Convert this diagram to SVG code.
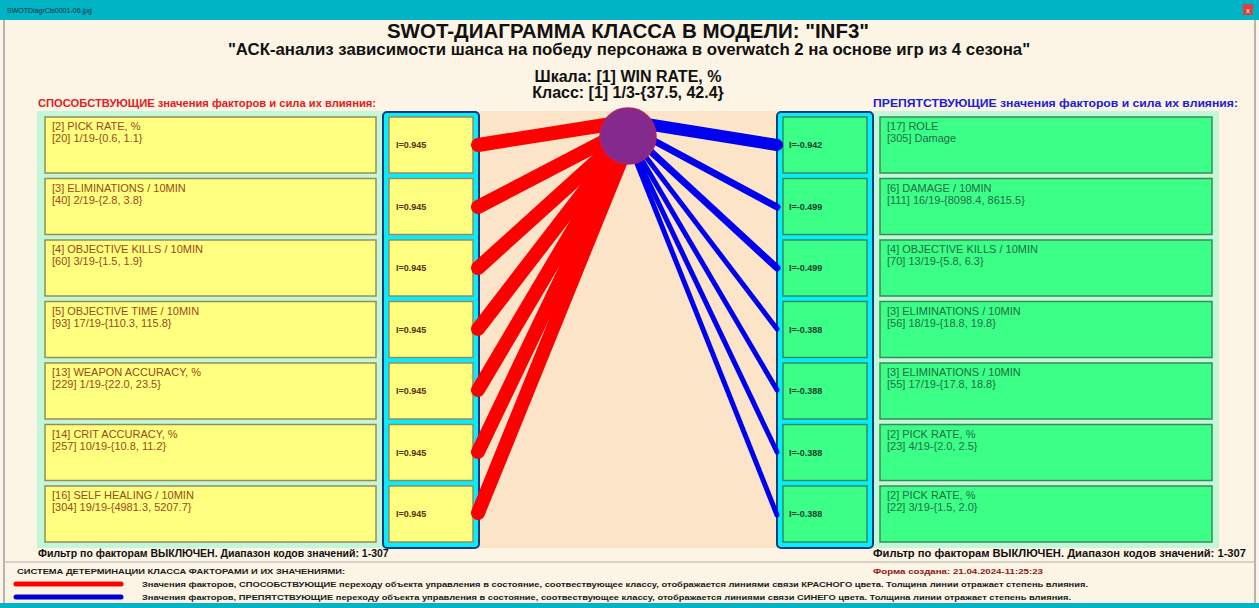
<svg xmlns="http://www.w3.org/2000/svg" width="1259" height="608" viewBox="0 0 1259 608">
<style>
text{font-family:"Liberation Sans",Arial,sans-serif}
.ybox{fill:#FFFF80;stroke:#9A8A5A;stroke-width:1.5}
.gbox{fill:#3CFF88;stroke:#3A8A5A;stroke-width:1.5}
.yt{font-size:11px;fill:#9A4A1A}
.gt{font-size:11px;fill:#1E6E44}
.iy{font-size:9px;font-weight:bold;fill:#5A3010}
.ig{font-size:9px;font-weight:bold;fill:#1A4030}
.frame{fill:#00F0FF;stroke:#1A3A7A;stroke-width:2}
.red{stroke:#FF0000;stroke-linecap:round;fill:none}
.blue{stroke:#0000F0;stroke-linecap:round;fill:none}
.leg{font-size:8px;font-weight:bold;fill:#202020}
</style>
<rect x="0" y="0" width="1259" height="608" fill="#FCF4E4"/>
<rect x="0" y="0" width="1259" height="20" fill="#00B4C6"/>
<text x="7" y="13" font-size="7" fill="#1A2A3A">SWOTDiagrCls0001-06.jpg</text>
<rect x="1243" y="4" width="10" height="11" fill="#E04040"/>
<text x="1248" y="12.5" font-size="7" fill="#FFFFFF" text-anchor="middle">x</text>
<rect x="0" y="603" width="1259" height="5" fill="#00B4C6"/>
<line x1="4" y1="20" x2="4" y2="603" stroke="#A0A0A0" stroke-width="1.5"/>
<line x1="1255" y1="20" x2="1255" y2="603" stroke="#A0A0A0" stroke-width="1.5"/>

<g id="titles">
<text x="628" y="38" font-size="20.5" font-weight="bold" text-anchor="middle" fill="#111">SWOT-ДИАГРАММА КЛАССА В МОДЕЛИ: "INF3"</text>
<text x="629" y="55" font-size="16.8" font-weight="bold" text-anchor="middle" fill="#111">"АСК-анализ зависимости шанса на победу персонажа в overwatch 2 на основе игр из 4 сезона"</text>
<text x="628" y="82" font-size="16" font-weight="bold" text-anchor="middle" fill="#111">Шкала: [1] WIN RATE, %</text>
<text x="628" y="98" font-size="16" font-weight="bold" text-anchor="middle" fill="#111">Класс: [1] 1/3-{37.5, 42.4}</text>
<text x="38" y="107" font-size="11" font-weight="bold" fill="#E02020" textLength="338" lengthAdjust="spacingAndGlyphs">СПОСОБСТВУЮЩИЕ значения факторов и сила их влияния:</text>
<text x="873" y="107" font-size="11" font-weight="bold" fill="#2020D0" textLength="365" lengthAdjust="spacingAndGlyphs">ПРЕПЯТСТВУЮЩИЕ значения факторов и сила их влияния:</text>
</g>

<rect x="37" y="111" width="346" height="437" fill="#C2F8D8"/>
<rect x="873" y="111" width="346" height="437" fill="#C2F8D8"/>
<rect x="479" y="111" width="298" height="437" fill="#FCE4C8"/>
<rect x="383" y="112" width="96" height="436" rx="4" class="frame"/>
<rect x="777" y="112" width="96" height="436" rx="4" class="frame"/>

<g id="left-nodes">
<g id="L1"><rect class="ybox" x="45" y="117" width="331" height="56"/><text class="yt" x="52" y="130">[2] PICK RATE, %</text><text class="yt" x="52" y="142">[20] 1/19-{0.6, 1.1}</text><rect class="ybox" x="389" y="117" width="84" height="56"/><text class="iy" x="396" y="148">I=0.945</text></g>
<g id="L2"><rect class="ybox" x="45" y="178.5" width="331" height="56"/><text class="yt" x="52" y="191.5">[3] ELIMINATIONS / 10MIN</text><text class="yt" x="52" y="203.5">[40] 2/19-{2.8, 3.8}</text><rect class="ybox" x="389" y="178.5" width="84" height="56"/><text class="iy" x="396" y="209.5">I=0.945</text></g>
<g id="L3"><rect class="ybox" x="45" y="240" width="331" height="56"/><text class="yt" x="52" y="253">[4] OBJECTIVE KILLS / 10MIN</text><text class="yt" x="52" y="265">[60] 3/19-{1.5, 1.9}</text><rect class="ybox" x="389" y="240" width="84" height="56"/><text class="iy" x="396" y="271">I=0.945</text></g>
<g id="L4"><rect class="ybox" x="45" y="301.5" width="331" height="56"/><text class="yt" x="52" y="314.5">[5] OBJECTIVE TIME / 10MIN</text><text class="yt" x="52" y="326.5">[93] 17/19-{110.3, 115.8}</text><rect class="ybox" x="389" y="301.5" width="84" height="56"/><text class="iy" x="396" y="332.5">I=0.945</text></g>
<g id="L5"><rect class="ybox" x="45" y="363" width="331" height="56"/><text class="yt" x="52" y="376">[13] WEAPON ACCURACY, %</text><text class="yt" x="52" y="388">[229] 1/19-{22.0, 23.5}</text><rect class="ybox" x="389" y="363" width="84" height="56"/><text class="iy" x="396" y="394">I=0.945</text></g>
<g id="L6"><rect class="ybox" x="45" y="424.5" width="331" height="56"/><text class="yt" x="52" y="437.5">[14] CRIT ACCURACY, %</text><text class="yt" x="52" y="449.5">[257] 10/19-{10.8, 11.2}</text><rect class="ybox" x="389" y="424.5" width="84" height="56"/><text class="iy" x="396" y="455.5">I=0.945</text></g>
<g id="L7"><rect class="ybox" x="45" y="486" width="331" height="56"/><text class="yt" x="52" y="499">[16] SELF HEALING / 10MIN</text><text class="yt" x="52" y="511">[304] 19/19-{4981.3, 5207.7}</text><rect class="ybox" x="389" y="486" width="84" height="56"/><text class="iy" x="396" y="517">I=0.945</text></g>
</g>

<g id="right-nodes">
<g id="R1"><rect class="gbox" x="783" y="117" width="84" height="56"/><text class="ig" x="789" y="148">I=-0.942</text><rect class="gbox" x="880" y="117" width="332" height="56"/><text class="gt" x="887" y="130">[17] ROLE</text><text class="gt" x="887" y="142">[305] Damage</text></g>
<g id="R2"><rect class="gbox" x="783" y="178.5" width="84" height="56"/><text class="ig" x="789" y="209.5">I=-0.499</text><rect class="gbox" x="880" y="178.5" width="332" height="56"/><text class="gt" x="887" y="191.5">[6] DAMAGE / 10MIN</text><text class="gt" x="887" y="203.5">[111] 16/19-{8098.4, 8615.5}</text></g>
<g id="R3"><rect class="gbox" x="783" y="240" width="84" height="56"/><text class="ig" x="789" y="271">I=-0.499</text><rect class="gbox" x="880" y="240" width="332" height="56"/><text class="gt" x="887" y="253">[4] OBJECTIVE KILLS / 10MIN</text><text class="gt" x="887" y="265">[70] 13/19-{5.8, 6.3}</text></g>
<g id="R4"><rect class="gbox" x="783" y="301.5" width="84" height="56"/><text class="ig" x="789" y="332.5">I=-0.388</text><rect class="gbox" x="880" y="301.5" width="332" height="56"/><text class="gt" x="887" y="314.5">[3] ELIMINATIONS / 10MIN</text><text class="gt" x="887" y="326.5">[56] 18/19-{18.8, 19.8}</text></g>
<g id="R5"><rect class="gbox" x="783" y="363" width="84" height="56"/><text class="ig" x="789" y="394">I=-0.388</text><rect class="gbox" x="880" y="363" width="332" height="56"/><text class="gt" x="887" y="376">[3] ELIMINATIONS / 10MIN</text><text class="gt" x="887" y="388">[55] 17/19-{17.8, 18.8}</text></g>
<g id="R6"><rect class="gbox" x="783" y="424.5" width="84" height="56"/><text class="ig" x="789" y="455.5">I=-0.388</text><rect class="gbox" x="880" y="424.5" width="332" height="56"/><text class="gt" x="887" y="437.5">[2] PICK RATE, %</text><text class="gt" x="887" y="449.5">[23] 4/19-{2.0, 2.5}</text></g>
<g id="R7"><rect class="gbox" x="783" y="486" width="84" height="56"/><text class="ig" x="789" y="517">I=-0.388</text><rect class="gbox" x="880" y="486" width="332" height="56"/><text class="gt" x="887" y="499">[2] PICK RATE, %</text><text class="gt" x="887" y="511">[22] 3/19-{1.5, 2.0}</text></g>
</g>

<g id="connectors">
<line class="red" stroke-width="14" x1="478" y1="145" x2="624" y2="122"/>
<line class="red" stroke-width="14" x1="478" y1="207" x2="622" y2="132"/>
<line class="red" stroke-width="14" x1="478" y1="268" x2="622" y2="138"/>
<line class="red" stroke-width="14" x1="478" y1="329" x2="622" y2="142"/>
<line class="red" stroke-width="14" x1="478" y1="390" x2="623" y2="145"/>
<line class="red" stroke-width="14" x1="478" y1="452" x2="624" y2="147"/>
<line class="red" stroke-width="14" x1="478" y1="513" x2="626" y2="148"/>
<line class="blue" stroke-width="12" x1="777" y1="145" x2="634" y2="122"/>
<line class="blue" stroke-width="7" x1="777" y1="207" x2="634" y2="130"/>
<line class="blue" stroke-width="7" x1="777" y1="268" x2="634" y2="136"/>
<line class="blue" stroke-width="5" x1="777" y1="329" x2="633" y2="140"/>
<line class="blue" stroke-width="5" x1="777" y1="390" x2="632" y2="143"/>
<line class="blue" stroke-width="5" x1="777" y1="452" x2="631" y2="145"/>
<line class="blue" stroke-width="5" x1="777" y1="515" x2="630" y2="146"/>
</g>

<g id="class-node">
<circle cx="628" cy="136" r="28" fill="#832A8C" stroke="#B0206A" stroke-width="1.5"/>
</g>

<g id="footer">
<text x="38" y="557" font-size="10.5" font-weight="bold" fill="#111">Фильтр по факторам ВЫКЛЮЧЕН. Диапазон кодов значений: 1-307</text>
<text x="873" y="557" font-size="10.5" font-weight="bold" fill="#111" textLength="373" lengthAdjust="spacingAndGlyphs">Фильтр по факторам ВЫКЛЮЧЕН. Диапазон кодов значений: 1-307</text>
<line x1="4" y1="562" x2="1255" y2="562" stroke="#B0B0B0" stroke-width="1"/>
<text class="leg" x="17" y="574" textLength="328" lengthAdjust="spacingAndGlyphs">СИСТЕМА ДЕТЕРМИНАЦИИ КЛАССА ФАКТОРАМИ И ИХ ЗНАЧЕНИЯМИ:</text>
<text x="873" y="574" font-size="8" font-weight="bold" fill="#8B2020" textLength="170" lengthAdjust="spacingAndGlyphs">Форма создана: 21.04.2024-11:25:23</text>
<line x1="16" y1="584" x2="121" y2="584" stroke="#FF0000" stroke-width="5" stroke-linecap="round"/>
<line x1="16" y1="597" x2="121" y2="597" stroke="#0000D0" stroke-width="5" stroke-linecap="round"/>
<text class="leg" x="142" y="587" textLength="946" lengthAdjust="spacingAndGlyphs">Значения факторов, СПОСОБСТВУЮЩИЕ переходу объекта управления в состояние, соотвествующее классу, отображается линиями связи КРАСНОГО цвета. Толщина линии отражает степень влияния.</text>
<text class="leg" x="142" y="600" textLength="929" lengthAdjust="spacingAndGlyphs">Значения факторов, ПРЕПЯТСТВУЮЩИЕ переходу объекта управления в состояние, соотвествующее классу, отображается линиями связи СИНЕГО цвета. Толщина линии отражает степень влияния.</text>
</g>
</svg>
